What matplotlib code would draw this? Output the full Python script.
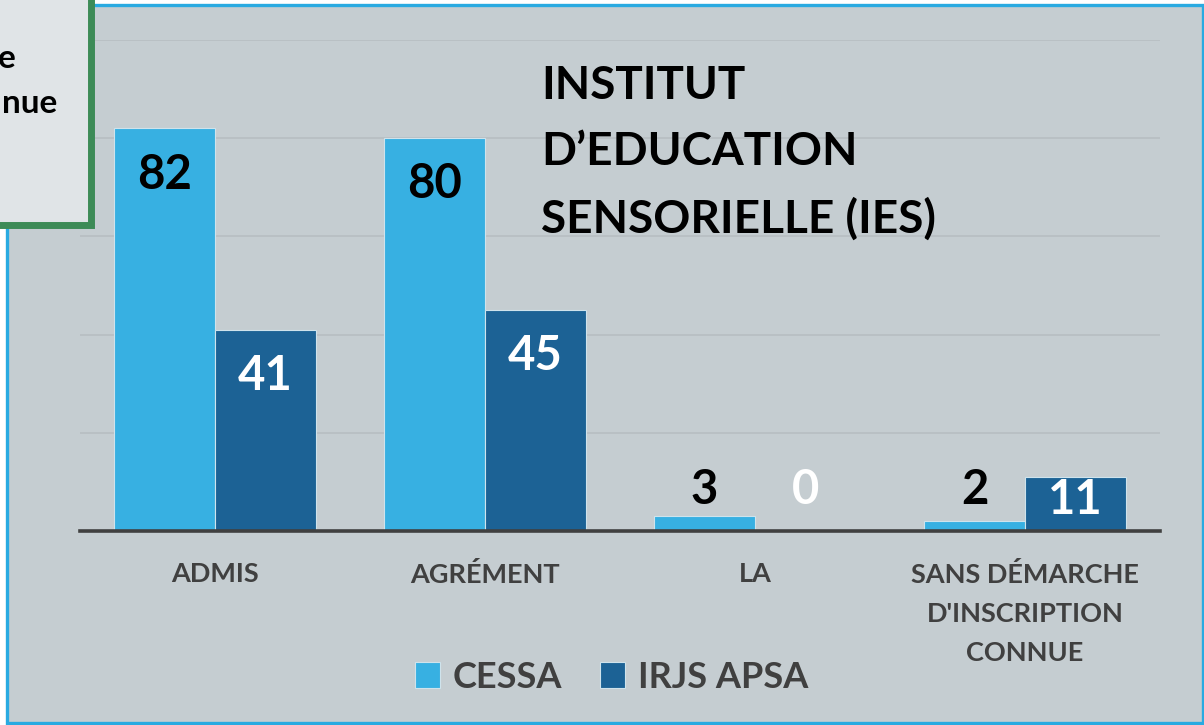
import numpy as np
import matplotlib
matplotlib.use("Agg")
import matplotlib.pyplot as plt
from matplotlib.patches import Rectangle

plt.rcParams['font.family'] = ['Lato', 'DejaVu Sans']

# data
categories = ['ADMIS', 'AGRÉMENT', 'LA', "SANS DÉMARCHE\nD'INSCRIPTION\nCONNUE"]
series_names = ['CESSA', 'IRJS APSA']
cessa = [82, 80, 3, 2]
irjs = [41, 45, 0, 11]
title_text = "INSTITUT\nD\u2019EDUCATION\nSENSORIELLE (IES)"

CESSA_COLOR = '#37b0e2'
IRJS_COLOR = '#1c6295'
BG = '#c5cdd1'
TEXT_GRAY = '#404040'

fig = plt.figure(figsize=(12.04, 7.25), dpi=100)
fig.patch.set_facecolor('white')

# outer frame of the slide element
frame = Rectangle((0.0062, 0.0028), 0.9926, 0.9903, transform=fig.transFigure,
                  facecolor=BG, edgecolor='#29aae1', linewidth=2.4, zorder=-5)
fig.patches.append(frame)

ax = fig.add_axes([0.0664, 0.2676, 0.897, 0.6772])
ax.set_facecolor('none')

x = np.arange(len(categories))
w = 0.374
b1 = ax.bar(x - w / 2, cessa, w, color=CESSA_COLOR, edgecolor='#cfe3ec', linewidth=0.8, zorder=3)
b2 = ax.bar(x + w / 2, irjs, w, color=IRJS_COLOR, edgecolor='#cfe3ec', linewidth=0.8, zorder=3)

ax.set_xlim(-0.5, 3.5)
ax.set_ylim(0, 100)
ax.set_yticks(np.arange(0, 101, 20))
ax.yaxis.grid(True, color='#b6bdc1', linewidth=1.1, zorder=0)
ax.axhline(0, color=TEXT_GRAY, linewidth=2.6, zorder=4, clip_on=False)
for s in ax.spines.values():
    s.set_visible(False)
ax.tick_params(axis='y', left=False, labelleft=False)
ax.tick_params(axis='x', length=0, pad=22)
ax.set_xticks(x)
ax.set_xticklabels(categories, fontsize=19.5, fontweight='bold', color=TEXT_GRAY,
                   linespacing=1.76)


def label_y(v):
    if v >= 10:
        return max(v - 9.4, 6.4)
    return 8.4


for xi, v in zip(x, cessa):
    ax.text(xi - w / 2, label_y(v), str(v), ha='center', va='center',
            fontsize=34, fontweight='bold', color='black', zorder=5)
for xi, v in zip(x, irjs):
    ax.text(xi + w / 2, label_y(v), str(v), ha='center', va='center',
            fontsize=34, fontweight='bold', color='white', zorder=5)

fig.text(0.4493, 0.679, title_text, ha='left', va='baseline', fontsize=33,
         fontweight='bold', color='black', linespacing=1.69)

# partial overlapping text box at top left
box = Rectangle((-0.02, 0.69), 0.0756 + 0.02, 0.4, transform=fig.transFigure,
                facecolor='#e0e4e7', edgecolor='#3d8b57', linewidth=5, zorder=10)
fig.patches.append(box)
fig.text(0.0133, 0.906, 'e', ha='right', va='baseline', fontsize=24,
         fontweight='bold', color='black', zorder=11)
fig.text(0.0473, 0.844, 'nue', ha='right', va='baseline', fontsize=24,
         fontweight='bold', color='black', zorder=11)

leg = fig.legend([b1, b2], series_names, loc='center', bbox_to_anchor=(0.508, 0.066),
                 ncol=2, frameon=False, handlelength=0.7, handleheight=0.7,
                 handletextpad=0.35, columnspacing=1.05,
                 prop={'size': 26, 'weight': 'bold'})
for t in leg.get_texts():
    t.set_color(TEXT_GRAY)

fig.savefig('out.png', dpi=100)
